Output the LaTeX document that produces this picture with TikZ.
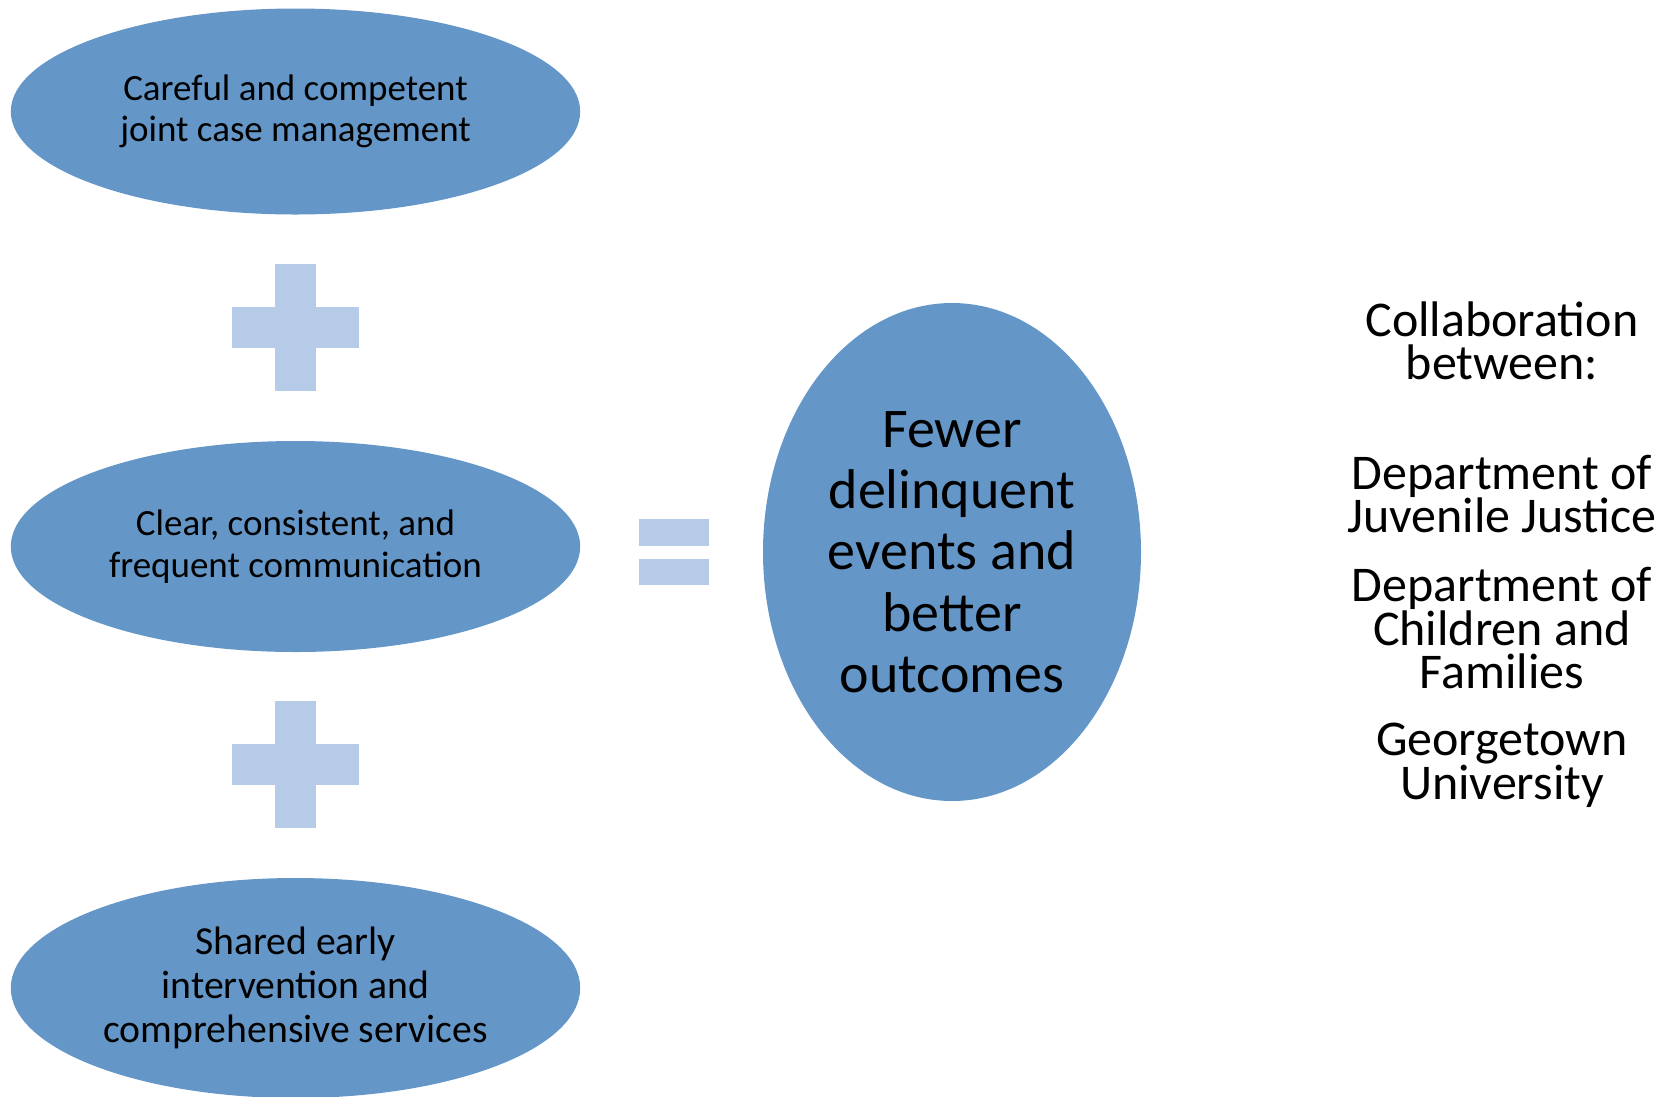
\documentclass[tikz,border=0pt]{standalone}
\usepackage{fontspec}
\setmainfont{Carlito}
\usetikzlibrary{shapes.geometric}
\definecolor{ellblue}{RGB}{100,151,199}
\definecolor{signblue}{RGB}{182,203,231}
\begin{document}
\begin{tikzpicture}[x=1pt,y=-1pt,
  oval/.style={ellipse, fill=ellblue, draw=none, inner sep=0pt, align=center, text=black},
  smalltext/.style={font=\fontsize{37}{41.6}\selectfont},
  bar/.style={rectangle, fill=signblue, draw=none, inner sep=0pt},
  side/.style={align=center, inner sep=0pt, font=\fontsize{50}{42.6}\selectfont}]
\useasboundingbox (0,0) rectangle (1671,1096);

% left ellipses
\node[oval, smalltext, minimum width=569.4pt, minimum height=206pt] (care) at (295.5,111.5)
  {Careful and competent\\joint case management};
\node[oval, smalltext, minimum width=569.4pt, minimum height=211pt] (comm) at (295.5,546.5)
  {Clear, consistent, and\\frequent communication};
\node[oval, font=\fontsize{39.7}{43.7}\selectfont, minimum width=569.4pt, minimum height=220pt] (serv) at (295.5,988)
  {Shared early\\intervention and\\comprehensive services};

% plus signs
\node[bar, minimum width=41pt, minimum height=127pt] (plusAv) at (295.5,327) {};
\node[bar, minimum width=127pt, minimum height=41pt] (plusAh) at (295.5,327) {};
\node[bar, minimum width=41pt, minimum height=127pt] (plusBv) at (295.5,764.5) {};
\node[bar, minimum width=127pt, minimum height=41pt] (plusBh) at (295.5,764.5) {};

% equals sign
\node[bar, minimum width=70pt, minimum height=26.4pt] (eqtop) at (674.3,532.5) {};
\node[bar, minimum width=70pt, minimum height=26.4pt] (eqbot) at (674.3,572) {};

% result
\node[oval, font=\fontsize{56}{61.3}\selectfont, minimum width=378pt, minimum height=498pt] (result) at (952,552)
  {Fewer\\delinquent\\events and\\better\\outcomes};

% side text
\node[side] (collab) at (1502,341) {Collaboration\\between:};
\node[side] (djj) at (1502,494) {Department of\\Juvenile Justice};
\node[side] (dcf) at (1502,628) {Department of\\Children and\\Families};
\node[side] (gu) at (1502,765) {Georgetown\\University};
\end{tikzpicture}
\end{document}
